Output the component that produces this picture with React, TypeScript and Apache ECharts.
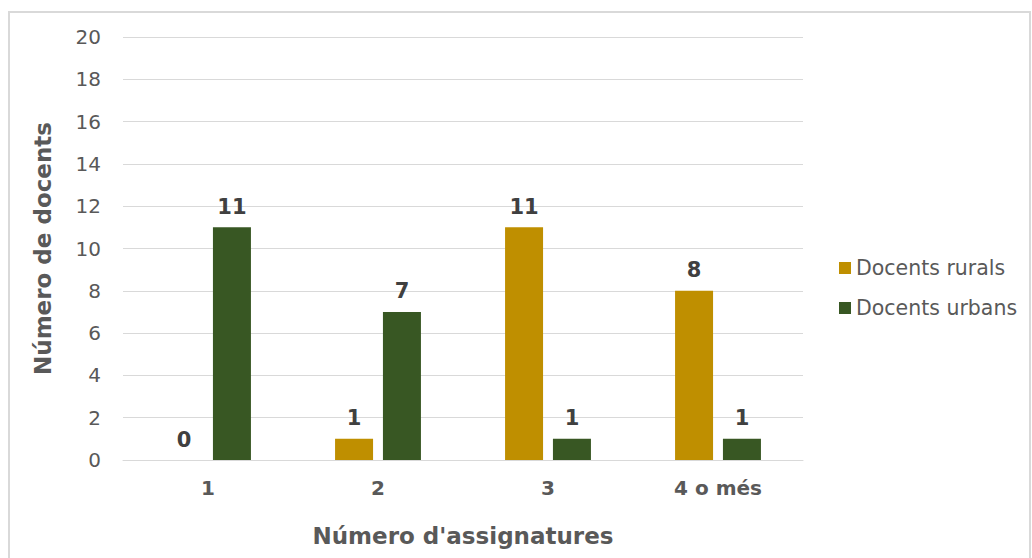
import React, { useEffect, useRef } from "react";
import * as echarts from "echarts";

const categories = ["1", "2", "3", "4 o més"];
const ruralTeachers = [0, 1, 11, 8];
const urbanTeachers = [11, 7, 1, 1];
const seriesNames = ["Docents rurals", "Docents urbans"];
const yTicks = { min: 0, max: 20, interval: 2 };

const FONT = "'DejaVu Sans', Verdana, sans-serif";
const GOLD = "#bf8f00";
const GREEN = "#385723";

export default function App() {
  const ref = useRef<HTMLDivElement>(null);

  useEffect(() => {
    if (!ref.current) return;
    const chart = echarts.init(ref.current, null, { renderer: "svg" });

    const barLabel = {
      show: true,
      position: "top" as const,
      distance: 10,
      color: "#404040",
      fontFamily: FONT,
      fontWeight: "bold" as const,
      fontSize: 21,
    };

    chart.setOption({
      animation: false,
      backgroundColor: "#ffffff",
      textStyle: { fontFamily: FONT },
      graphic: [
        {
          type: "rect",
          shape: { x: 9, y: 12, width: 1021, height: 560 },
          style: { fill: "none", stroke: "#d9d9d9", lineWidth: 2 },
          silent: true,
        },
      ],
      grid: { left: 123, right: 229, top: 37, bottom: 98 },
      legend: {
        orient: "vertical",
        left: 834,
        top: 252,
        itemWidth: 12,
        itemHeight: 12,
        itemGap: 18,
        icon: "rect",
        data: seriesNames,
        textStyle: { color: "#595959", fontSize: 20.5, fontFamily: FONT, lineHeight: 22 },
      },
      xAxis: {
        type: "category",
        data: categories,
        name: "Número d'assignatures",
        nameLocation: "middle",
        nameGap: 64,
        nameTextStyle: { color: "#595959", fontSize: 23, fontWeight: "bold", fontFamily: FONT },
        axisLine: { show: true, lineStyle: { color: "#d9d9d9", width: 1 } },
        axisTick: { show: false },
        axisLabel: { color: "#595959", fontSize: 20, fontWeight: "bold", margin: 18, fontFamily: FONT },
      },
      yAxis: {
        type: "value",
        min: yTicks.min,
        max: yTicks.max,
        interval: yTicks.interval,
        name: "Número de docents",
        nameLocation: "middle",
        nameGap: 69,
        nameTextStyle: { color: "#595959", fontSize: 23, fontWeight: "bold", fontFamily: FONT },
        axisLine: { show: false },
        axisTick: { show: false },
        axisLabel: { color: "#595959", fontSize: 20, margin: 22, fontFamily: FONT },
        splitLine: { lineStyle: { color: "#d9d9d9", width: 1 } },
      },
      series: [
        {
          name: seriesNames[0],
          type: "bar",
          data: ruralTeachers,
          barWidth: 38,
          barGap: "26%",
          itemStyle: { color: GOLD },
          label: barLabel,
        },
        {
          name: seriesNames[1],
          type: "bar",
          data: urbanTeachers,
          barWidth: 38,
          barGap: "26%",
          itemStyle: { color: GREEN },
          label: barLabel,
        },
      ],
    });

    return () => chart.dispose();
  }, []);

  return (
    <div
      ref={ref}
      style={{ position: "absolute", left: 0, top: 0, width: 1032, height: 558 }}
    />
  );
}
